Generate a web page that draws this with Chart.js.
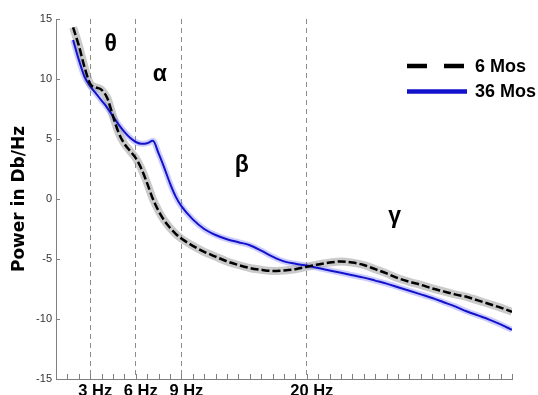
<!DOCTYPE html>
<html>
<head>
<meta charset="utf-8">
<script src="https://cdn.jsdelivr.net/npm/chart.js@4/dist/chart.umd.min.js"></script>
<style>
  html, body { margin: 0; padding: 0; background: #fff; overflow: hidden; }
  #wrap { width: 538px; height: 395px; position: relative; }
</style>
</head>
<body>
<div id="wrap"><canvas id="psd"></canvas></div>
<script>
// x positions are frequency bins (one minor tick per bin)
const bins = [1.5, 2, 2.5, 3, 3.5, 4, 4.5, 5, 5.5, 6, 6.5, 7, 7.5, 8, 8.5, 9, 9.5, 10, 10.5,
  11, 12, 13, 14, 15, 16, 17, 18, 19, 20, 21, 22, 23, 24, 25, 26, 27, 28, 29, 30,
  31, 32, 33, 34, 35, 36, 37, 38, 39, 40];

// 6 months (black dashed)
const power6Mos = [14.3, 12.8, 11.0, 9.6, 9.3, 9.1, 8.4, 6.9, 5.5, 4.6, 4.0, 3.4, 2.5, 1.3, 0.0, -1.0, -1.8, -2.4, -2.9,
  -3.3, -3.9, -4.4, -4.8, -5.2, -5.5, -5.75, -5.9, -6.0, -5.95, -5.85, -5.65, -5.45, -5.3, -5.2, -5.3, -5.5, -5.85, -6.2, -6.6,
  -6.9, -7.15, -7.45, -7.7, -7.95, -8.15, -8.45, -8.75, -9.05, -9.4];

// 36 months (blue)
const power36Mos = [13.25, 11.6, 10.2, 9.4, 8.8, 8.2, 7.6, 6.9, 6.2, 5.6, 5.1, 4.75, 4.6, 4.65, 4.85, 3.8, 2.6, 1.3, 0.2,
  -0.6, -1.7, -2.5, -3.0, -3.35, -3.6, -3.85, -4.3, -4.8, -5.2, -5.4, -5.55, -5.75, -5.95, -6.15, -6.35, -6.55, -6.8, -7.05, -7.35,
  -7.65, -7.95, -8.25, -8.6, -8.95, -9.35, -9.7, -10.05, -10.45, -10.9];

const seriesNames = ['6 Mos', '36 Mos'];

// labelled band edges on the x axis
const edgeBins = [3, 7, 11, 22];
const edgeLabels = ['3 Hz', '6 Hz', '9 Hz', '20 Hz'];

// frequency band names
const bandNames = ['θ', 'α', 'β', 'γ'];
// where each band name sits, in axis units [bin, dB]
const bandNameAt = [[4.8, 12.9], [9.1, 10.4], [16.3, 2.8], [29.7, -1.5]];

const toPoints = (xs, ys) => xs.map((x, i) => ({ x: x, y: ys[i] }));

// minor ticks pointing into the plot, plus the band names and the legend
const extras = {
  id: 'extras',
  afterDraw(chart) {
    const ctx = chart.ctx;
    const xs = chart.scales.x;
    const ys = chart.scales.y;
    const area = chart.chartArea;
    ctx.save();
    ctx.strokeStyle = '#808080';
    ctx.lineWidth = 1;
    ctx.beginPath();
    for (let v = xs.min + 1; v <= xs.max; v++) {
      const px = Math.round(xs.getPixelForValue(v)) + 0.5;
      ctx.moveTo(px, area.bottom);
      ctx.lineTo(px, area.bottom - 5);
    }
    for (let v = ys.min; v <= ys.max; v += 5) {
      const py = Math.round(ys.getPixelForValue(v)) + 0.5;
      ctx.moveTo(area.left, py);
      ctx.lineTo(area.left + 4, py);
    }
    ctx.stroke();

    ctx.fillStyle = '#000';
    ctx.font = 'bold 23px "Liberation Sans"';
    ctx.textAlign = 'center';
    ctx.textBaseline = 'middle';
    bandNames.forEach((name, i) => {
      ctx.fillText(name, xs.getPixelForValue(bandNameAt[i][0]), ys.getPixelForValue(bandNameAt[i][1]));
    });

    // legend
    ctx.lineWidth = 4.5;
    ctx.strokeStyle = '#000';
    ctx.setLineDash([20, 17]);
    ctx.beginPath();
    ctx.moveTo(407, 66);
    ctx.lineTo(466, 66);
    ctx.stroke();
    ctx.setLineDash([]);
    ctx.strokeStyle = '#1212cc';
    ctx.beginPath();
    ctx.moveTo(407, 91.5);
    ctx.lineTo(467, 91.5);
    ctx.stroke();
    ctx.font = 'bold 18px "Liberation Sans"';
    ctx.textAlign = 'left';
    ctx.fillText(seriesNames[0], 475, 67);
    ctx.fillText(seriesNames[1], 475, 92);
    ctx.restore();
  }
};

new Chart(document.getElementById('psd'), {
  type: 'line',
  data: {
    datasets: [
      {
        label: seriesNames[0],
        data: toPoints(bins, power6Mos),
        borderColor: '#000',
        borderWidth: 2.5,
        borderDash: [8, 3],
        pointRadius: 0,
        cubicInterpolationMode: 'monotone',
        order: 0
      },
      {
        label: seriesNames[1],
        data: toPoints(bins, power36Mos),
        borderColor: '#1212cc',
        borderWidth: 2,
        pointRadius: 0,
        cubicInterpolationMode: 'monotone',
        order: 1
      },
      {
        label: seriesNames[0] + ' sem',
        data: toPoints(bins, power6Mos),
        borderColor: 'rgba(150,150,150,0.5)',
        borderWidth: 8,
        pointRadius: 0,
        cubicInterpolationMode: 'monotone',
        order: 2
      },
      {
        label: seriesNames[1] + ' sem',
        data: toPoints(bins, power36Mos),
        borderColor: 'rgba(110,110,255,0.35)',
        borderWidth: 6,
        pointRadius: 0,
        cubicInterpolationMode: 'monotone',
        order: 3
      }
    ]
  },
  options: {
    responsive: true,
    maintainAspectRatio: false,
    devicePixelRatio: 1,
    animation: false,
    layout: { padding: { top: 19, right: 26, left: 0, bottom: 0 } },
    plugins: {
      legend: { display: false },
      tooltip: { enabled: false }
    },
    scales: {
      x: {
        type: 'linear',
        min: 0,
        max: 40,
        afterFit: (s) => { s.height = 16; },
        ticks: {
          stepSize: 1,
          autoSkip: false,
          maxRotation: 0,
          labelOffset: 5,
          padding: 3,
          color: '#000',
          font: { family: 'Liberation Sans', size: 16.5, weight: 'bold' },
          callback: (v) => {
            const i = edgeBins.indexOf(v);
            return i >= 0 ? edgeLabels[i] : '';
          }
        },
        grid: {
          drawTicks: false,
          lineWidth: 1,
          color: (c) => (c.tick && edgeBins.includes(c.tick.value)) ? '#8c8c8c' : 'rgba(0,0,0,0)'
        },
        border: { display: true, color: '#808080', width: 1, dash: [5, 4] }
      },
      y: {
        min: -15,
        max: 15,
        afterFit: (s) => { s.width = 56; },
        ticks: {
          stepSize: 5,
          padding: 4,
          color: '#333',
          font: { family: 'Liberation Sans', size: 11 }
        },
        grid: { display: false, drawTicks: false },
        border: { display: true, color: '#808080', width: 1 },
        title: {
          display: true,
          text: 'Power in Db/Hz',
          color: '#000',
          padding: { top: 9, bottom: 0 },
          font: { family: 'DejaVu Sans', size: 17, weight: 'bold' }
        }
      }
    }
  },
  plugins: [extras]
});
</script>
</body>
</html>
